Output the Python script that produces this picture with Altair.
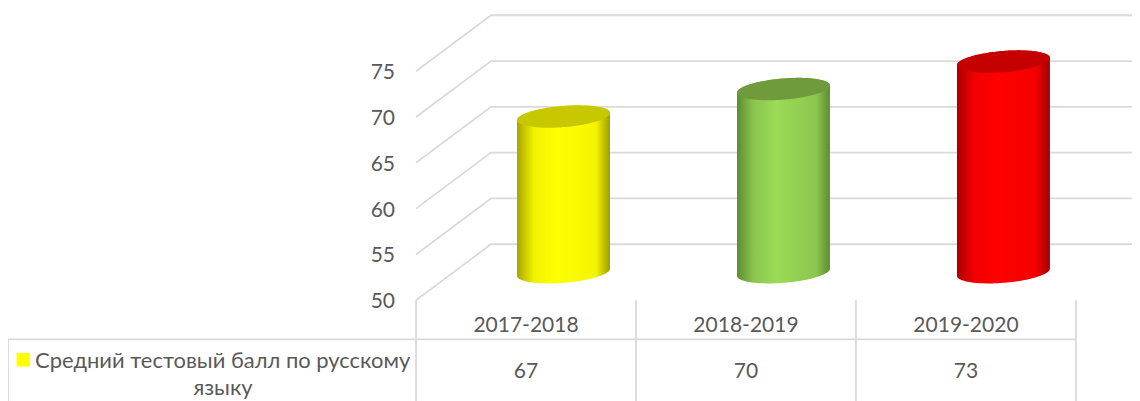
import altair as alt
import pandas as pd
import numpy as np

categories = ["2017-2018", "2018-2019", "2019-2020"]
values = [67, 70, 73]
axis_ticks = [50, 55, 60, 65, 70, 75]
series_name = ["Средний тестовый балл по русскому", "языку"]
swatch = "#FFFF00"
body_edges = [("#A6A600", "#F2F200", "#FFFF00", "#F4F400", "#9C9C00"),
              ("#5E8C31", "#8CC64E", "#9BDB55", "#8CC64E", "#5E8C31"),
              ("#A80000", "#F00000", "#FF0000", "#F40000", "#A00000")]
cap_colors = ["#C8C800", "#6F9B3C", "#C40000"]

# the page is 8 px wider than the window, so the photograph shrinks it by S
S = 1140 / 1148
W, H = 1132, 396


def P(px):
    """position in the plot for a position in the photograph"""
    return px / S - 8


FONT = "Lato"
GREY = "#595959"
GRID = "#DADADA"
FS = 21.15

PX_X, PX_Y = 220.0 / S, 9.16 / S
X0, Y50 = P(416), P(298.8)
xs = alt.Scale(domain=[-X0 / PX_X, (W - X0) / PX_X], range=[0, W], nice=False, zero=False)
ys = alt.Scale(domain=[50 - (H - Y50) / PX_Y, 50 + Y50 / PX_Y], range=[H, 0], nice=False, zero=False)

DEPTH_X = 75 / S / PX_X
DEPTH_Y = 56 / S / PX_Y
MID = 0.5
R_X = 44 / S / PX_X
R_D = 0.2


def X(f):
    return alt.X(f, type="quantitative", scale=xs, axis=None)


def Y(f):
    return alt.Y(f, type="quantitative", scale=ys, axis=None)


def envelope(cx, value):
    a = R_X
    b = R_D * DEPTH_X
    c = R_D * DEPTH_Y
    ext = np.hypot(a, b)
    u = ext * np.cos(np.linspace(np.pi, 0, 81))
    A = 1 + b ** 2 / a ** 2
    B = -2 * u * b / a ** 2
    C = u ** 2 / a ** 2 - 1
    disc = np.sqrt(np.clip(B ** 2 - 4 * A * C, 0, None))
    hi = (-B + disc) / (2 * A)
    lo = (-B - disc) / (2 * A)
    x = cx + MID * DEPTH_X + u
    base = value + MID * DEPTH_Y
    return x, base + c * hi, base + c * lo


layers = []

grid_rows = []
for t in axis_ticks:
    grid_rows.append({"t": t, "o": 0, "x": 0, "y": t})
    grid_rows.append({"t": t, "o": 1, "x": DEPTH_X, "y": t + DEPTH_Y})
    grid_rows.append({"t": t, "o": 2, "x": 4, "y": t + DEPTH_Y})
layers.append(
    alt.Chart(pd.DataFrame(grid_rows))
    .mark_line(color=GRID, strokeWidth=1.8, clip=True)
    .encode(x=X("x"), y=Y("y"), detail="t:N", order="o:Q")
)

for i, v in enumerate(values):
    e = body_edges[i]
    grad = alt.Gradient(
        gradient="linear", x1=0, x2=1, y1=0, y2=0,
        stops=[alt.GradientStop(color=e[0], offset=0),
               alt.GradientStop(color=e[1], offset=0.18),
               alt.GradientStop(color=e[2], offset=0.42),
               alt.GradientStop(color=e[3], offset=0.85),
               alt.GradientStop(color=e[4], offset=1)],
    )
    xb, _, low_b = envelope(i + 0.5, 50)
    _, up_t, low_t = envelope(i + 0.5, v)
    body = pd.DataFrame({"x": xb, "y": low_b, "y2": up_t})
    cap = pd.DataFrame({"x": xb, "y": low_t, "y2": up_t})
    layers.append(alt.Chart(body).mark_area(fill=grad, interpolate="linear").encode(x=X("x"), y=Y("y"), y2="y2"))
    layers.append(alt.Chart(cap).mark_area(fill=cap_colors[i], interpolate="linear").encode(x=X("x"), y=Y("y"), y2="y2"))

layers.append(
    alt.Chart(pd.DataFrame({"t": axis_ticks, "s": [str(t) for t in axis_ticks]}))
    .mark_text(align="right", baseline="middle", font=FONT, fontSize=FS, color=GREY, dy=2)
    .encode(x=alt.value(P(395)), y=Y("t"), text="s:N")
)

layers.append(
    alt.Chart(pd.DataFrame({"x": [0, 1, 2, 3]}))
    .mark_rule(color=GRID, strokeWidth=1.8)
    .encode(x=X("x"), y=alt.value(Y50), y2=alt.value(H))
)
layers.append(
    alt.Chart(pd.DataFrame({"a": [1]}))
    .mark_rule(color=GRID, strokeWidth=1.8)
    .encode(x=alt.value(P(8)), x2=alt.value(X0 + 3 * PX_X), y=alt.value(P(338)))
)
layers.append(
    alt.Chart(pd.DataFrame({"a": [1]}))
    .mark_rule(color=GRID, strokeWidth=1.8)
    .encode(x=alt.value(P(8)), y=alt.value(P(338)), y2=alt.value(H))
)
layers.append(
    alt.Chart(pd.DataFrame({"x": [0.5, 1.5, 2.5], "s": categories}))
    .mark_text(align="center", baseline="middle", font=FONT, fontSize=FS, color=GREY)
    .encode(x=X("x"), y=alt.value(P(325)), text="s:N")
)
layers.append(
    alt.Chart(pd.DataFrame({"x": [0.5, 1.5, 2.5], "s": [str(v) for v in values]}))
    .mark_text(align="center", baseline="middle", font=FONT, fontSize=FS, color=GREY)
    .encode(x=X("x"), y=alt.value(P(371)), text="s:N")
)
layers.append(
    alt.Chart(pd.DataFrame({"a": [1]}))
    .mark_rect(color=swatch)
    .encode(x=alt.value(P(16.5)), x2=alt.value(P(30)), y=alt.value(P(351.5)), y2=alt.value(P(365)))
)
layers.append(
    alt.Chart(pd.DataFrame({"s": [series_name[0]]}))
    .mark_text(align="left", baseline="middle", font=FONT, fontSize=22.1, color=GREY)
    .encode(x=alt.value(P(35)), y=alt.value(P(360)), text="s:N")
)
layers.append(
    alt.Chart(pd.DataFrame({"s": [series_name[1]]}))
    .mark_text(align="center", baseline="middle", font=FONT, fontSize=22.1, color=GREY)
    .encode(x=alt.value(P(223)), y=alt.value(P(387)), text="s:N")
)

chart = (
    alt.layer(*layers)
    .properties(width=W, height=H, padding=0, autosize=alt.AutoSizeParams(type="none"), background="white")
    .configure_view(stroke=None)
)
chart.save("out.html", embed_options={"renderer": "svg", "actions": False})
